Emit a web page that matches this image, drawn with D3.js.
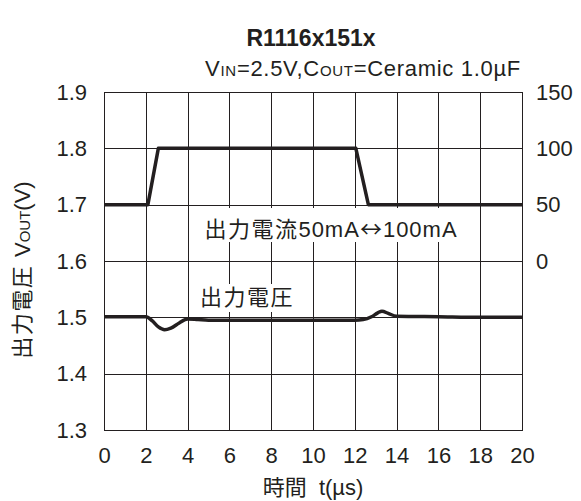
<!DOCTYPE html>
<html>
<head>
<meta charset="utf-8">
<script src="https://cdn.jsdelivr.net/npm/d3@7"></script>
<style>
  html, body { margin: 0; padding: 0; background: #fff; }
  svg { display: block; }
</style>
</head>
<body>
<div id="chart"></div>
<script>
// ─── Data ───
const xTicks = [0, 2, 4, 6, 8, 10, 12, 14, 16, 18, 20];
const voutTicks = [1.3, 1.4, 1.5, 1.6, 1.7, 1.8, 1.9];
const currentTicks = [0, 50, 100, 150];

const currentTime = [0, 2.1, 2.6, 12.05, 12.65, 20];
const currentMA = [50, 50, 100, 100, 50, 50];

const voutTime = [0, 2.0, 2.3, 2.6, 2.9, 3.2, 3.6, 4.0, 4.5, 5, 8, 10, 12, 12.4, 12.8, 13.1, 13.3, 13.6, 14, 16, 18, 20];
const voutV = [1.501, 1.501, 1.494, 1.483, 1.478, 1.481, 1.490, 1.497, 1.496, 1.495, 1.495, 1.495, 1.495, 1.496, 1.501, 1.508, 1.511, 1.507, 1.502, 1.501, 1.500, 1.500];

const W = 581, H = 501;
const m = { top: 92, right: 59, bottom: 71, left: 104 };
const font = "'Liberation Sans', Arial, 'Noto Sans CJK JP', sans-serif";
const ink = '#231f20';
const fs = 22;

const svg = d3.select('#chart').append('svg')
  .attr('width', W).attr('height', H)
  .attr('font-family', font);

const x = d3.scaleLinear().domain([0, 20]).range([m.left, W - m.right]);
const y = d3.scaleLinear().domain([1.3, 1.9]).range([H - m.bottom, m.top]);
const yR = d3.scaleLinear().domain([-150, 150]).range([H - m.bottom, m.top]);

// ─── Grid ───
const grid = svg.append('g').attr('stroke', ink).attr('stroke-width', 1);
xTicks.forEach(t => {
  grid.append('line')
    .attr('x1', Math.round(x(t)) + 0.5).attr('x2', Math.round(x(t)) + 0.5)
    .attr('y1', m.top).attr('y2', H - m.bottom);
});
voutTicks.forEach(v => {
  grid.append('line')
    .attr('y1', Math.round(y(v)) + 0.5).attr('y2', Math.round(y(v)) + 0.5)
    .attr('x1', m.left).attr('x2', W - m.right);
});

// ─── Label boxes that hide the grid ───
svg.append('rect').attr('x', 193).attr('y', 208).attr('width', 274).attr('height', 34).attr('fill', '#fff');
svg.append('rect').attr('x', 194).attr('y', 284).attr('width', 112).attr('height', 28).attr('fill', '#fff');

// ─── Axes (tick labels only) ───
const left = svg.append('g')
  .attr('transform', `translate(${m.left - 14},0)`)
  .call(d3.axisLeft(y).tickValues(voutTicks).tickFormat(d3.format('.1f')).tickSize(0));
const right = svg.append('g')
  .attr('transform', `translate(${W - m.right + 11},0)`)
  .call(d3.axisRight(yR).tickValues(currentTicks).tickSize(0));
const bottom = svg.append('g')
  .attr('transform', `translate(0,${H - m.bottom + 14})`)
  .call(d3.axisBottom(x).tickValues(xTicks).tickSize(0));
[left, right, bottom].forEach(a => {
  a.select('.domain').remove();
  a.selectAll('text')
    .attr('font-family', font)
    .attr('font-size', fs)
    .attr('fill', ink);
});

// ─── Lines ───
const currentLine = d3.line()
  .x((d, i) => x(currentTime[i]))
  .y(d => yR(d));
svg.append('path')
  .attr('d', currentLine(currentMA))
  .attr('fill', 'none')
  .attr('stroke', ink)
  .attr('stroke-width', 3.5)
  .attr('stroke-linejoin', 'round');

const voutLine = d3.line()
  .x((d, i) => x(voutTime[i]))
  .y(d => y(d))
  .curve(d3.curveMonotoneX);
svg.append('path')
  .attr('d', voutLine(voutV))
  .attr('fill', 'none')
  .attr('stroke', ink)
  .attr('stroke-width', 3.5)
  .attr('stroke-linejoin', 'round');

// frame on top
svg.append('rect')
  .attr('x', m.left + 0.5).attr('y', m.top + 0.5)
  .attr('width', W - m.left - m.right).attr('height', H - m.top - m.bottom)
  .attr('fill', 'none').attr('stroke', ink).attr('stroke-width', 1);

// ─── Texts ───
svg.append('text')
  .attr('x', 311).attr('y', 46)
  .attr('text-anchor', 'middle')
  .attr('font-size', 23).attr('font-weight', 'bold')
  .attr('fill', ink)
  .text('R1116x151x');

const sub = svg.append('text')
  .attr('x', 521).attr('y', 76)
  .attr('text-anchor', 'end')
  .attr('font-size', fs)
  .attr('letter-spacing', 0.7)
  .attr('fill', ink);
sub.append('tspan').text('V');
sub.append('tspan').attr('font-size', 15).text('IN');
sub.append('tspan').text('=2.5V,C');
sub.append('tspan').attr('font-size', 15).text('OUT');
sub.append('tspan').text('=Ceramic 1.0µF');

const cur = svg.append('text')
  .attr('x', 331).attr('y', 237)
  .attr('text-anchor', 'middle')
  .attr('font-size', fs)
  .attr('letter-spacing', 1)
  .attr('fill', ink);
cur.append('tspan').attr('letter-spacing', 1.5).text('出力電流');
cur.append('tspan').text('50mA');
cur.append('tspan').attr('font-family', "'Noto Sans CJK JP'").text('↔');
cur.append('tspan').text('100mA');

svg.append('text')
  .attr('x', 200).attr('y', 305)
  .attr('font-size', fs).attr('letter-spacing', 1.5)
  .attr('fill', ink)
  .text('出力電圧');

const yl = svg.append('text')
  .attr('transform', 'translate(30,270) rotate(-90)')
  .attr('text-anchor', 'middle')
  .attr('font-size', fs)
  .attr('fill', ink)
  .style('white-space', 'pre');
yl.append('tspan').attr('letter-spacing', 1.5).text('出力電圧 ');
yl.append('tspan').text('V');
yl.append('tspan').attr('font-size', 15).text('OUT');
yl.append('tspan').text('(V)');

svg.append('text')
  .attr('x', 313).attr('y', 495)
  .attr('text-anchor', 'middle')
  .attr('font-size', fs)
  .attr('fill', ink)
  .style('white-space', 'pre')
  .text('時間  t(µs)');
</script>
</body>
</html>
